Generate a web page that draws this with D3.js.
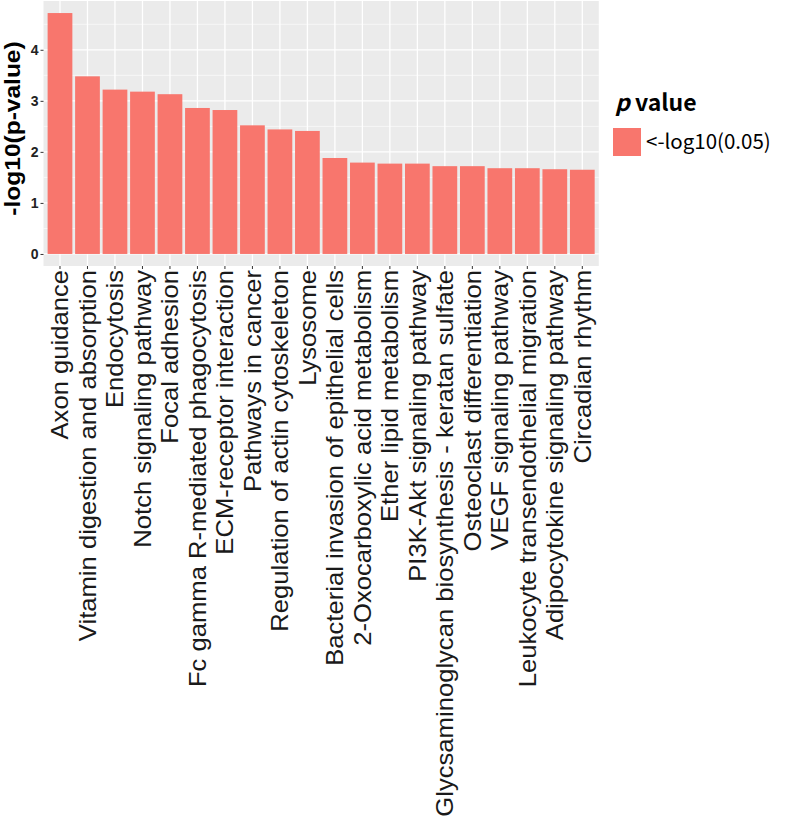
<!DOCTYPE html>
<html><head><meta charset="utf-8">
<script src="https://cdn.jsdelivr.net/npm/d3@7"></script>
<style>body{margin:0;background:#fff}svg{display:block}
.lib{font-family:"Liberation Sans",Arial,sans-serif}
.kr{font-family:"Noto Sans CJK KR","Noto Sans",sans-serif}
</style>
</head><body>
<svg id="c" width="788" height="818"></svg>
<script>
const categories = ["Axon guidance","Vitamin digestion and absorption","Endocytosis","Notch signaling pathway","Focal adhesion","Fc gamma R-mediated phagocytosis","ECM-receptor interaction","Pathways in cancer","Regulation of actin cytoskeleton","Lysosome","Bacterial invasion of epithelial cells","2-Oxocarboxylic acid metabolism","Ether lipid metabolism","PI3K-Akt signaling pathway","Glycsaminoglycan biosynthesis - keratan sulfate","Osteoclast differentiation","VEGF signaling pathway","Leukocyte transendothelial migration","Adipocytokine signaling pathway","Circadian rhythm"];
const values = [4.72,3.48,3.22,3.18,3.13,2.86,2.82,2.52,2.44,2.41,1.88,1.79,1.77,1.77,1.72,1.72,1.68,1.68,1.66,1.65];
const yTicks = [0,1,2,3,4];
const yMinor = [0.5,1.5,2.5,3.5,4.5];
const legendLabel = "<-log10(0.05)";

const svg = d3.select("#c");
const P = {l:43.5, r:598.8, t:1, b:266};
const maxV = d3.max(values);
const y = d3.scaleLinear().domain([-0.05*maxV, maxV*1.05]).range([P.b, P.t]);
const x = d3.scaleBand().domain(categories).range([P.l, P.r]).paddingInner(0.1).paddingOuter(0.15);

svg.append("rect").attr("x",P.l).attr("y",P.t).attr("width",P.r-P.l).attr("height",P.b-P.t).attr("fill","#EBEBEB");
const g = svg.append("g");
g.selectAll(".mn").data(yMinor.filter(v=>y(v)>P.t)).join("line")
 .attr("x1",P.l).attr("x2",P.r).attr("y1",d=>y(d)).attr("y2",d=>y(d)).attr("stroke","#fff").attr("stroke-width",0.6);
g.selectAll(".mj").data(yTicks).join("line")
 .attr("x1",P.l).attr("x2",P.r).attr("y1",d=>y(d)).attr("y2",d=>y(d)).attr("stroke","#fff").attr("stroke-width",1.3);
g.selectAll(".vx").data(categories).join("line")
 .attr("x1",d=>x(d)+x.bandwidth()/2).attr("x2",d=>x(d)+x.bandwidth()/2).attr("y1",P.t).attr("y2",P.b).attr("stroke","#fff").attr("stroke-width",1.3);

svg.selectAll(".bar").data(categories).join("rect")
 .attr("x",d=>x(d)).attr("width",x.bandwidth())
 .attr("y",(d,i)=>y(values[i])).attr("height",(d,i)=>y(0)-y(values[i]))
 .attr("fill","#F8766D");

// y axis
const ya = svg.append("g").attr("transform",`translate(${P.l},0)`)
 .call(d3.axisLeft(y).tickValues(yTicks).tickSize(3).tickPadding(2).tickFormat(d3.format("d")));
ya.select(".domain").remove();
ya.selectAll("line").attr("stroke","#333");
ya.selectAll("text").attr("class","lib").attr("font-size",14).attr("font-weight","bold").attr("fill","#222");

// x axis
const xa = svg.append("g").attr("transform",`translate(0,${P.b})`)
 .call(d3.axisBottom(x).tickSize(3).tickFormat(""));
xa.select(".domain").remove();
xa.selectAll("line").attr("stroke","#333");
svg.append("g").selectAll("text").data(categories).join("text")
 .attr("class","lib")
 .attr("transform",d=>`translate(${x(d)+x.bandwidth()/2},${P.b+4}) scale(1,1.09) rotate(-90)`)
 .attr("text-anchor","end").attr("dy","0.35em")
 .attr("font-size",23.5).attr("fill","#1a1a1a")
 .text(d=>d);

// y title
svg.append("text").attr("class","lib").attr("transform",`translate(12,${(P.t+P.b)/2 - 5}) scale(1,1.09) rotate(-90)`)
 .attr("text-anchor","middle").attr("dy","0.35em")
 .attr("font-size",22.5).attr("font-weight","bold").attr("fill","#000")
 .text("-log10(p-value)");

// legend
const lt = svg.append("text").attr("class","kr").attr("x",615).attr("y",111)
 .attr("font-size",23).attr("font-weight","600").attr("fill","#000");
lt.append("tspan").attr("font-style","italic").text("p");
lt.append("tspan").text(" value");
svg.append("rect").attr("x",613).attr("y",128).attr("width",28).attr("height",28).attr("fill","#F8766D");
svg.append("text").attr("class","kr").attr("x",646).attr("y",142).attr("dy","0.35em")
 .attr("font-size",20.5).attr("fill","#000")
 .text(legendLabel);
</script>
</body></html>
